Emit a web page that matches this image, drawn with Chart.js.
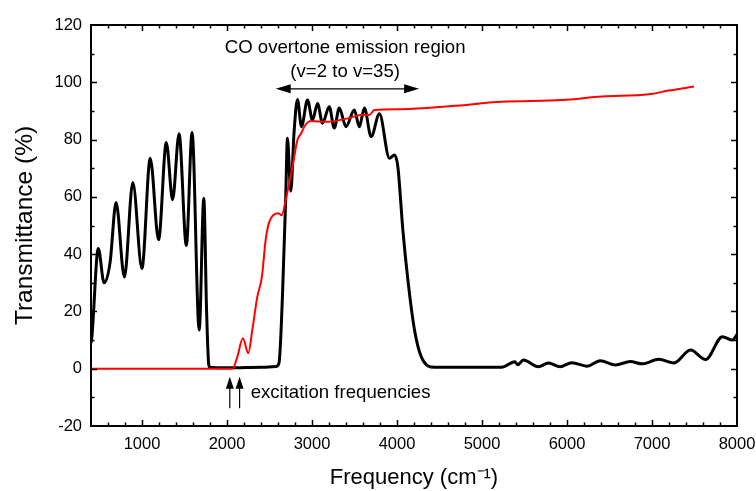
<!DOCTYPE html>
<html>
<head>
<meta charset="utf-8">
<script src="https://cdn.jsdelivr.net/npm/chart.js@4.4.0/dist/chart.umd.min.js"></script>
<style>
  html, body { margin: 0; padding: 0; background: #fff; }
  canvas { display: block; }
</style>
</head>
<body>
<canvas id="spectrum" width="756" height="491"></canvas>
<script>
// Black trace: transmittance of the sample
const blackFreq = [400, 410, 486, 554, 624, 695, 793, 892, 999, 1097, 1195, 1286, 1360, 1436, 1522, 1589, 1673, 1727, 1760, 1785, 1800, 2000, 2400, 2580,
  2612, 2652, 2691, 2711, 2750, 2790, 2829, 2876, 2947, 3006, 3065, 3124, 3203, 3262, 3321, 3400, 3498, 3557, 3616, 3696, 3793, 3911, 3970, 4010,
  4069, 4128, 4206, 4285, 4443, 5230, 5387, 5419, 5487, 5664, 5782, 5919, 6057, 6234, 6391, 6569, 6746, 6884, 7081, 7258, 7454, 7631, 7828, 7946, 8000];
const blackT = [9, 11, 42, 30, 37, 58, 32, 65, 35, 73.5, 45, 79, 59, 82, 43, 82.5, 13.5, 59.5, 20, 1.5, 0.5, 0.3, 0.5, 0.8,
  2, 25, 60, 80.5, 62, 83, 94, 84.5, 93.8, 86.8, 92.6, 85.7, 91.5, 84, 91, 84.5, 90.3, 84.5, 91, 81, 89, 73.5, 74.6, 70.5,
  48.4, 31, 13.5, 4.2, 0.5, 0.5, 2.4, 1.4, 3, 0.7, 2, 0.7, 2.1, 0.9, 2.8, 1.3, 2.5, 1.7, 3.3, 2, 6.5, 3.2, 11.2, 10, 12];

// Red trace
const redFreq = [400, 2065, 2120, 2187, 2250, 2300, 2356, 2410, 2455, 2494, 2540, 2600, 2645, 2691, 2770, 2830, 2870, 2920, 2986, 3183, 3419, 3577, 3675, 3734,
  4049, 4640, 5230, 5939, 6411, 6963, 7199, 7494];
const redT = [0, 0, 4, 10.6, 5.4, 14, 25, 32, 45, 51, 53.5, 54.3, 53.6, 59, 70.5, 80, 82, 85, 86.5, 86.2, 87.4, 88.6, 88.6, 90.3,
  90.6, 91.7, 93.2, 93.8, 95, 95.8, 97.1, 98.5];

const xTicks = [1000, 2000, 3000, 4000, 5000, 6000, 7000, 8000];
const yTicks = [-20, 0, 20, 40, 60, 80, 100, 120];

// annotation anchors, in data units
const regionArrow = { from: 2573, to: 4260, y: 97.7 };
const regionLabel = { x: 3390, line1: 112, line2: 103.6 };
const excitation = [2033, 2148];
const excitationLabel = { x: 2278, y: -8.6 };

const toPoints = (xs, ys) => xs.map((v, i) => ({ x: v, y: ys[i] }));
const FONT = "'Liberation Sans', Arial, sans-serif";

Chart.defaults.font.family = FONT;
Chart.defaults.color = "#000";

const frameAndTicks = {
  id: "frameAndTicks",
  afterDraw(chart) {
    const { ctx, chartArea: a, scales: { x, y } } = chart;
    ctx.save();
    ctx.strokeStyle = "#000";
    ctx.lineWidth = 1.5;
    ctx.beginPath();
    for (let v = 600; v < 8000; v += 200) {
      const px = Math.round(x.getPixelForValue(v)) + 0.5;
      const len = v % 1000 === 0 ? 6 : 3.5;
      ctx.moveTo(px, a.bottom); ctx.lineTo(px, a.bottom - len);
      ctx.moveTo(px, a.top); ctx.lineTo(px, a.top + len);
    }
    for (let v = -10; v < 120; v += 10) {
      const py = Math.round(y.getPixelForValue(v)) + 0.5;
      const len = v % 20 === 0 ? 6 : 3.5;
      ctx.moveTo(a.left, py); ctx.lineTo(a.left + len, py);
      ctx.moveTo(a.right, py); ctx.lineTo(a.right - len, py);
    }
    ctx.stroke();
    ctx.lineWidth = 2;
    ctx.strokeRect(a.left, a.top, a.right - a.left, a.bottom - a.top);

    // CO overtone region arrow
    const ay = y.getPixelForValue(regionArrow.y);
    const x1 = x.getPixelForValue(regionArrow.from);
    const x2 = x.getPixelForValue(regionArrow.to);
    ctx.lineWidth = 1.2;
    ctx.beginPath();
    ctx.moveTo(x1 + 10, ay); ctx.lineTo(x2 - 10, ay);
    ctx.stroke();
    ctx.fillStyle = "#000";
    ctx.beginPath();
    ctx.moveTo(x1, ay); ctx.lineTo(x1 + 15, ay - 4.5); ctx.lineTo(x1 + 15, ay + 4.5); ctx.closePath();
    ctx.moveTo(x2, ay); ctx.lineTo(x2 - 15, ay - 4.5); ctx.lineTo(x2 - 15, ay + 4.5); ctx.closePath();
    ctx.fill();

    ctx.font = "18.6px " + FONT;
    ctx.textAlign = "center";
    ctx.textBaseline = "middle";
    const lx = x.getPixelForValue(regionLabel.x);
    ctx.fillText("CO overtone emission region", lx, y.getPixelForValue(regionLabel.line1));
    ctx.fillText("(v=2 to v=35)", lx, y.getPixelForValue(regionLabel.line2));

    // excitation arrows
    const top = y.getPixelForValue(-2.8);
    const bot = y.getPixelForValue(-13.8);
    excitation.forEach(f => {
      const px = x.getPixelForValue(f);
      ctx.beginPath();
      ctx.moveTo(px, bot); ctx.lineTo(px, top + 10);
      ctx.stroke();
      ctx.beginPath();
      ctx.moveTo(px, top); ctx.lineTo(px - 4, top + 12); ctx.lineTo(px + 4, top + 12); ctx.closePath();
      ctx.fill();
    });
    ctx.textAlign = "left";
    ctx.fillText("excitation frequencies", x.getPixelForValue(excitationLabel.x), y.getPixelForValue(excitationLabel.y));
    ctx.restore();
  }
};

new Chart(document.getElementById("spectrum"), {
  type: "line",
  data: {
    datasets: [
      {
        data: toPoints(redFreq, redT),
        borderColor: "#ff0000",
        borderWidth: 2,
        pointRadius: 0,
        cubicInterpolationMode: "monotone",
        order: 1
      },
      {
        data: toPoints(blackFreq, blackT),
        borderColor: "#000",
        borderWidth: 3,
        pointRadius: 0,
        cubicInterpolationMode: "monotone",
        order: 2
      }
    ]
  },
  options: {
    responsive: false,
    animation: false,
    layout: { padding: { top: 25, right: 19, bottom: 0, left: 0 } },
    plugins: { legend: { display: false }, tooltip: { enabled: false } },
    scales: {
      x: {
        type: "linear",
        min: 400,
        max: 8000,
        grid: { display: false, drawTicks: false },
        border: { display: false },
        afterBuildTicks: s => { s.ticks = xTicks.map(v => ({ value: v })); },
        afterFit: s => { s.height = 65; s.paddingLeft = 0; s.paddingRight = 0; },
        ticks: { font: { size: 16.5 }, padding: 9, maxRotation: 0, callback: v => String(v) },
        title: { display: true, text: "Frequency (cm\u207B\u00B9)", font: { size: 22 }, padding: { top: 0, bottom: 0 } }
      },
      y: {
        min: -20,
        max: 120,
        grid: { display: false, drawTicks: false },
        border: { display: false },
        afterBuildTicks: s => { s.ticks = yTicks.map(v => ({ value: v })); },
        afterFit: s => { s.width = 91; s.paddingTop = 0; s.paddingBottom = 0; },
        ticks: { font: { size: 16.5 }, padding: 9, callback: v => String(v) },
        title: { display: true, text: "Transmittance (%)", font: { size: 24.5 }, padding: { top: 11, bottom: 0 } }
      }
    }
  },
  plugins: [frameAndTicks]
});
</script>
</body>
</html>
